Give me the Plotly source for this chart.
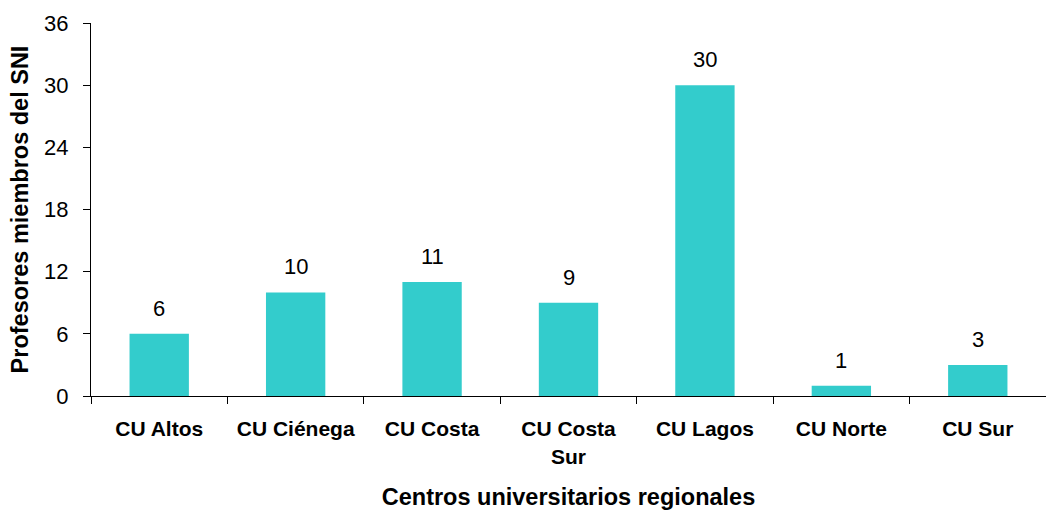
import plotly.graph_objects as go

# datos
centros = ["CU Altos", "CU Ciénega", "CU Costa", "CU Costa<br>Sur", "CU Lagos", "CU Norte", "CU Sur"]
profesores_sni = [6, 10, 11, 9, 30, 1, 3]
y_ticks = [0, 6, 12, 18, 24, 30, 36]

fuente = "Liberation Sans, Arial, sans-serif"

fig = go.Figure(
    data=[
        go.Bar(
            x=centros,
            y=profesores_sni,
            marker=dict(color="#33CCCC", line=dict(width=0)),
            width=0.435,
            showlegend=False,
        )
    ]
)

# etiquetas de valor arriba de cada barra
fig.update_layout(
    annotations=[
        dict(
            x=c,
            y=v,
            text=str(v),
            showarrow=False,
            yanchor="bottom",
            yshift=11,
            font=dict(family=fuente, size=22, color="#000000"),
        )
        for c, v in zip(centros, profesores_sni)
    ]
)

fig.update_layout(
    width=1046,
    height=510,
    plot_bgcolor="#ffffff",
    paper_bgcolor="#ffffff",
    margin=dict(l=91, r=0, t=23, b=114),
    font=dict(family=fuente, size=20, color="#000000"),
)
fig.update_xaxes(
    automargin=False,
    showline=True,
    linecolor="#000000",
    linewidth=1,
    ticks="outside",
    tickson="boundaries",
    ticklen=7,
    tickcolor="#000000",
    tickfont=dict(family=fuente, size=21, color="#000000", weight="bold"),
    ticklabelstandoff=14,
    showgrid=False,
    title=dict(
        text="<b>Centros universitarios regionales</b>",
        font=dict(family=fuente, size=23.5),
        standoff=22,
    ),
)
fig.update_yaxes(
    automargin=False,
    range=[0, 36],
    tickvals=y_ticks,
    showline=True,
    linecolor="#000000",
    linewidth=1,
    ticks="outside",
    ticklen=7,
    tickcolor="#000000",
    tickfont=dict(family=fuente, size=22, color="#000000"),
    ticklabelstandoff=10,
    showgrid=False,
    zeroline=False,
    title=dict(
        text="<b>Profesores miembros del SNI</b>",
        font=dict(family=fuente, size=23.5),
        standoff=8,
    ),
)

# sin margen del body para que la figura quede en (0, 0)
fig.write_html(
    "out.html",
    config={"displayModeBar": False},
    post_script="document.body.style.margin='0';",
)
